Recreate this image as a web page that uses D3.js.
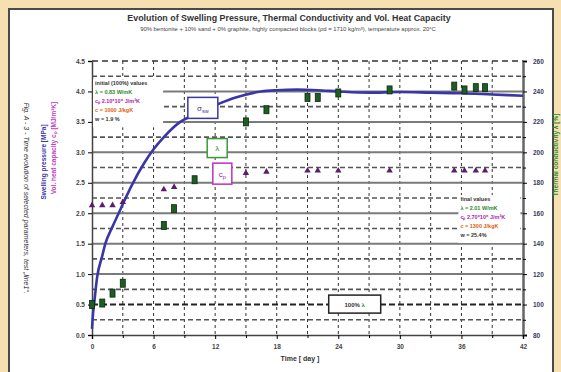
<!DOCTYPE html>
<html>
<head>
<meta charset="utf-8">
<script src="https://cdn.jsdelivr.net/npm/d3@7"></script>
<style>
  body { margin: 0; background: #f6dfb1; }
  svg { display: block; font-family: "Liberation Sans", Arial, sans-serif; }
</style>
</head>
<body>
<div id="chart"></div>
<script>
// Swelling pressure curve (MPa)
const sigmaDays = [0, 0.1, 0.2, 0.5, 1.0, 1.3, 2.0, 2.6, 3.0, 4.0, 5.0, 6.0, 7.0, 8.6, 10, 12.4, 14, 16.5, 18, 20, 22, 24, 27, 30, 33, 36, 39, 42];
const sigmaValues = [0.1, 0.35, 0.5, 0.95, 1.3, 1.5, 1.78, 2.0, 2.15, 2.5, 2.8, 3.05, 3.25, 3.5, 3.62, 3.8, 3.9, 4.0, 4.02, 4.03, 4.02, 4.0, 3.98, 3.99, 3.98, 3.97, 3.95, 3.93];

// Thermal conductivity (% of initial value, right axis)
const lambdaDays = [0, 1, 2, 3, 7, 8, 10, 15, 17, 21, 22, 24, 29, 35.3, 36.3, 37.4, 38.3];
const lambdaValues = [100, 101, 107.5, 114, 152, 163, 182, 220, 228, 236, 236, 239, 241, 243.5, 241, 242.5, 242.5];

// Vol. heat capacity (MJ/m3K, left axis)
const cpDays = [0, 1, 2, 3, 7, 8, 15, 17, 21, 22, 24, 29, 35.3, 36.3, 37.4, 38.3];
const cpValues = [2.13, 2.13, 2.13, 2.18, 2.39, 2.43, 2.66, 2.68, 2.7, 2.7, 2.7, 2.7, 2.7, 2.7, 2.7, 2.7];

const xTicks = [0, 6, 12, 18, 24, 30, 36, 42];
const leftTicks = [0, 0.5, 1, 1.5, 2, 2.5, 3, 3.5, 4, 4.5];
const rightTicks = [80, 100, 120, 140, 160, 180, 200, 220, 240, 260];

const initialLegend = [
  ["initial (100%) values", "#333"],
  ["\u03bb = 0.83 W/mK", "#2a8a2a"],
  ["c\u209a 2.10*10\u2076 J/m\u00b3K", "#b020b0"],
  ["c = 1000 J/kgK", "#e06010"],
  ["w = 1.9 %", "#333"]
];
const finalLegend = [
  ["final values", "#333"],
  ["\u03bb = 2.01 W/mK", "#2a8a2a"],
  ["c\u209a 2.70*10\u2076 J/m\u00b3K", "#b020b0"],
  ["c = 1300 J/kgK", "#e06010"],
  ["w = 25.4%", "#333"]
];

const W = 561, H = 372;
const svg = d3.select("#chart").append("svg").attr("width", W).attr("height", H);

// white panel with frame
svg.append("rect").attr("x", 9).attr("y", 9).attr("width", 544).attr("height", 380)
  .attr("fill", "#fff").attr("stroke", "#4a4a4a").attr("stroke-width", 2);

// scales
const x = d3.scaleLinear().domain([0, 42]).range([92, 523]);
const yL = d3.scaleLinear().domain([0, 4.5]).range([335, 61]);
const yR = d3.scaleLinear().domain([80, 260]).range([335, 61]);

const grid = svg.append("g");

// vertical dashed gridlines every 3 days
d3.range(3, 42, 3).forEach(function (d) {
  grid.append("line").attr("x1", x(d)).attr("x2", x(d)).attr("y1", yL(4.5)).attr("y2", yL(0))
    .attr("stroke", "#333").attr("stroke-width", 1).attr("stroke-dasharray", "3,3");
});

// horizontal minor dashed lines
d3.range(0.25, 4.5, 0.5).forEach(function (v) {
  grid.append("line").attr("x1", x(0)).attr("x2", x(42)).attr("y1", yL(v)).attr("y2", yL(v))
    .attr("stroke", "#555").attr("stroke-width", 1.6).attr("stroke-dasharray", "5,3");
});
// top dashed border
grid.append("line").attr("x1", x(0)).attr("x2", x(42)).attr("y1", yL(4.5)).attr("y2", yL(4.5))
  .attr("stroke", "#333").attr("stroke-width", 1.5).attr("stroke-dasharray", "6,4");

// horizontal major solid lines
[1, 1.5, 2, 2.5, 3, 3.5, 4].forEach(function (v) {
  grid.append("line").attr("x1", x(0)).attr("x2", x(42)).attr("y1", yL(v)).attr("y2", yL(v))
    .attr("stroke", "#7a7a7a").attr("stroke-width", 2);
});
// 100% lambda line
grid.append("line").attr("x1", x(0)).attr("x2", x(42)).attr("y1", yR(100)).attr("y2", yR(100))
  .attr("stroke", "#222").attr("stroke-width", 2).attr("stroke-dasharray", "6,3");

// Add the Y Axis (left)
const leftAxis = svg.append("g").attr("transform", "translate(" + x(0) + ",0)")
  .call(d3.axisLeft(yL).tickValues(leftTicks).tickFormat(d3.format(".1f")).tickSize(4));
leftAxis.select(".domain").attr("stroke", "#444").attr("stroke-width", 1.5);
leftAxis.selectAll("text").attr("font-size", 6.5).attr("font-weight", "bold").attr("fill", "#444");

// Add the Y Axis (right)
const rightAxis = svg.append("g").attr("transform", "translate(" + x(42) + ",0)")
  .call(d3.axisRight(yR).tickValues(rightTicks).tickSize(4).tickPadding(6));
rightAxis.select(".domain").attr("stroke", "#666").attr("stroke-width", 2.5);
rightAxis.selectAll("text").attr("font-size", 6.5).attr("font-weight", "bold").attr("fill", "#3a3a5a");
svg.append("g").attr("transform", "translate(" + x(42) + ",0)")
  .call(d3.axisRight(yR).tickValues(d3.range(90, 260, 20)).tickSize(3).tickFormat(""))
  .select(".domain").remove();

// Add the X Axis
const xAxis = svg.append("g").attr("transform", "translate(0," + yL(0) + ")")
  .call(d3.axisBottom(x).tickValues(xTicks).tickSize(4).tickPadding(5));
xAxis.select(".domain").attr("stroke", "#444").attr("stroke-width", 1.5);
xAxis.selectAll("text").attr("font-size", 6.5).attr("font-weight", "bold").attr("fill", "#444");
svg.append("g").attr("transform", "translate(0," + yL(0) + ")")
  .call(d3.axisBottom(x).tickValues(d3.range(3, 42, 6)).tickSize(3).tickFormat(""))
  .select(".domain").remove();

// legend boxes (white, hiding the grid)
function legend(items, lx, ly, w) {
  svg.append("rect").attr("x", lx - 2).attr("y", ly - 6).attr("width", w).attr("height", items.length * 9 + 3)
    .attr("fill", "#fff");
  items.forEach(function (it, i) {
    svg.append("text").attr("x", lx).attr("y", ly + i * 9)
      .attr("font-size", 5.5).attr("font-weight", "bold").attr("fill", it[1]).text(it[0]);
  });
}
legend(initialLegend, x(0.3), yL(4.1), 70);
legend(finalLegend, x(35.9), yL(2.2), 62);

// swelling pressure curve
const line = d3.line().curve(d3.curveMonotoneX)
  .x(function (d, i) { return x(sigmaDays[i]); })
  .y(function (d) { return yL(d); });
svg.append("path").attr("d", line(sigmaValues))
  .attr("fill", "none").attr("stroke", "#3a36a8").attr("stroke-width", 2.6);

// thermal conductivity squares
svg.selectAll(".lam").data(lambdaValues).enter().append("rect")
  .attr("class", "lam")
  .attr("x", function (d, i) { return x(lambdaDays[i]) - 2.5; })
  .attr("y", function (d) { return yR(d) - 4; })
  .attr("width", 5).attr("height", 8)
  .attr("fill", "#1f5e22").attr("stroke", "#0a2a0a").attr("stroke-width", 0.8);

// heat capacity triangles
svg.selectAll(".cp").data(cpValues).enter().append("path")
  .attr("class", "cp")
  .attr("d", d3.symbol().type(d3.symbolTriangle).size(18))
  .attr("transform", function (d, i) { return "translate(" + x(cpDays[i]) + "," + yL(d) + ")"; })
  .attr("fill", "#5c1d6e");

// curve labels
function tag(cx, cy, w, h, color, build) {
  svg.append("rect").attr("x", cx - w / 2).attr("y", cy - h / 2).attr("width", w).attr("height", h)
    .attr("fill", "#fff").attr("stroke", color).attr("stroke-width", 1.5);
  build(svg.append("text").attr("x", cx).attr("y", cy + 3).attr("text-anchor", "middle").attr("font-size", 8));
}
tag(x(10.8), yL(3.73), 30, 21, "#3a36a8", function (t) {
  t.attr("fill", "#3a36a8").text("\u03c3");
  t.append("tspan").attr("font-size", 5.5).attr("dy", 2).text("sw");
});
tag(x(12.2), yL(3.07), 20, 19, "#3a9a3a", function (t) {
  t.attr("fill", "#2a8a2a").text("\u03bb");
});
tag(x(12.7), yL(2.65), 19, 21, "#c030c0", function (t) {
  t.attr("fill", "#a020a0").text("c");
  t.append("tspan").attr("font-size", 5.5).attr("dy", 2).text("p");
});
tag(x(25.6), yR(100.3), 52, 18, "#222", function (t) {
  t.attr("font-size", 6).attr("font-weight", "bold").attr("fill", "#333").text("100% ");
  t.append("tspan").attr("fill", "#2a8a2a").text("\u03bb");
});

// Add chart title
svg.append("text").attr("x", 289).attr("y", 21).attr("text-anchor", "middle")
  .attr("font-size", 8.9).attr("font-weight", "bold").attr("fill", "#333")
  .text("Evolution of Swelling Pressure, Thermal Conductivity and  Vol. Heat Capacity");
svg.append("text").attr("x", 288).attr("y", 31).attr("text-anchor", "middle")
  .attr("font-size", 5.9).attr("fill", "#444")
  .text("90% bentonite + 10% sand + 0% graphite, highly compacted blocks (\u03c1d = 1710 kg/m\u00b3), temperature approx. 20\u00b0C");

// axis titles
svg.append("text").attr("x", 300).attr("y", 361).attr("text-anchor", "middle")
  .attr("font-size", 7).attr("font-weight", "bold").attr("fill", "#333").text("Time [ day ]");
svg.append("text").attr("transform", "translate(46,162) rotate(-90)").attr("text-anchor", "middle")
  .attr("font-size", 6.5).attr("font-weight", "bold").attr("fill", "#3a36a8").text("Swelling pressure [MPa]");
svg.append("text").attr("transform", "translate(56,148) rotate(-90)").attr("text-anchor", "middle")
  .attr("font-size", 6.5).attr("font-weight", "bold").attr("fill", "#c040c0").text("Vol. heat capacity c\u209a [MJ/m\u00b3K]");
svg.append("text").attr("transform", "translate(558,155) rotate(-90)").attr("text-anchor", "middle")
  .attr("font-size", 6.5).attr("font-weight", "bold").attr("fill", "#2a8a2a").text("Thermal conductivity \u03bb [%]");
svg.append("text").attr("transform", "translate(24,198) rotate(90)").attr("text-anchor", "middle")
  .attr("font-size", 7).attr("font-style", "italic").attr("fill", "#333")
  .text("Fig. A - 3 - Time evolution of selected parameters, test \u201eline1\u201c.");
</script>
</body>
</html>
